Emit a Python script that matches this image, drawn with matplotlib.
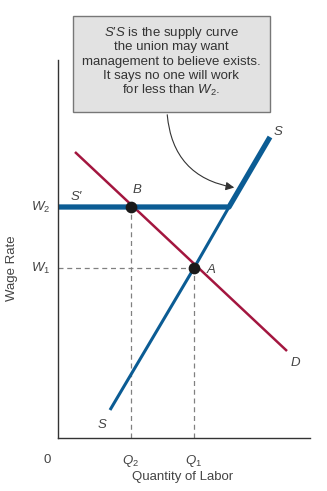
import matplotlib.pyplot as plt
from matplotlib.patches import FancyArrowPatch, Rectangle

plt.rcParams['font.family'] = ['Liberation Sans', 'DejaVu Sans']
plt.rcParams['mathtext.fontset'] = 'custom'
plt.rcParams['mathtext.it'] = 'Liberation Sans:italic'
plt.rcParams['mathtext.rm'] = 'Liberation Sans'

# chart values (axis units: quantity 0-252, wage 0-378)
w_levels = [170, 231]          # W1, W2
q_levels = [136, 73]           # Q1, Q2
demand_x = [17, 229]
demand_y = [286, 87]
supply_x = [52, 136, 171]      # bottom, A, kink
supply_y = [28, 170, 231]
supply_top = [212, 301]
note_lines = ["$S$\u2032$S$ is the supply curve", "the union may want",
              "management to believe exists.", "It says no one will work",
              "for less than $W_2$."]
blue = '#0b5c94'
red = '#a3163f'
grey = '#808080'
txt = '#444444'

fig = plt.figure(figsize=(3.27, 4.91), dpi=100)
ax = fig.add_axes([58/327, 53/491, 252/327, 378/491])
ax.set_xlim(0, 252)
ax.set_ylim(0, 378)
for s in ['top', 'right']:
    ax.spines[s].set_visible(False)
for s in ['left', 'bottom']:
    ax.spines[s].set_color('#333333')
    ax.spines[s].set_linewidth(1.0)
ax.set_xticks([])
ax.set_yticks([])

# dashed guides
ax.plot([0, q_levels[0]], [w_levels[0]] * 2, ls=(0, (4, 3)), color=grey, lw=0.9)
ax.plot([q_levels[0]] * 2, [0, w_levels[0]], ls=(0, (4, 3)), color=grey, lw=0.9)
ax.plot([q_levels[1]] * 2, [0, w_levels[1]], ls=(0, (4, 3)), color=grey, lw=0.9)

# demand
ax.plot(demand_x, demand_y, color=red, lw=1.8, solid_capstyle='butt')
# supply below the kink
ax.plot(supply_x, supply_y, color=blue, lw=2.2, solid_capstyle='butt')
# S'S: horizontal at W2 then up along S
ax.plot([0, supply_x[2], supply_top[0]], [w_levels[1], w_levels[1], supply_top[1]],
        color=blue, lw=3.8, solid_capstyle='butt')

ax.scatter([q_levels[1], q_levels[0]], [w_levels[1], w_levels[0]], s=55, color='#1a1a1a', zorder=5)

fs = 9.5
it = dict(fontsize=fs, color=txt, style='italic')
ax.text(13, 238, "S\u2032", **it)
ax.text(75, 245, 'B', **it)
ax.text(149, 165, 'A', **it)
ax.text(233, 72, 'D', **it)
ax.text(216, 303, 'S', **it)
ax.text(40, 10, 'S', **it)

# axis labels
ax.text(-8, w_levels[1], '$W_2$', fontsize=fs, ha='right', va='center', color=txt)
ax.text(-8, w_levels[0], '$W_1$', fontsize=fs, ha='right', va='center', color=txt)
ax.text(-11, -22, '0', fontsize=fs, ha='center', va='center', color=txt)
ax.text(q_levels[1], -23, '$Q_2$', fontsize=fs, ha='center', va='center', color=txt)
ax.text(q_levels[0], -23, '$Q_1$', fontsize=fs, ha='center', va='center', color=txt)
ax.text(125, -39, 'Quantity of Labor', fontsize=fs, ha='center', va='center', color=txt)
ax.text(-46, 170, 'Wage Rate', fontsize=fs, ha='center', va='center', rotation=90, color=txt)

# note box
fig.patches.append(Rectangle((73/327, 1 - 112/491), 197/327, 96/491, transform=fig.transFigure,
                             fc='#e2e2e2', ec='#777777', lw=1.0))
for i, line in enumerate(note_lines):
    fig.text(171/327, 1 - (36 + 14.4 * i)/491, line, fontsize=9.5, ha='center',
             va='baseline', color='#333333')

arrow = FancyArrowPatch((167/327, 1 - 112/491), (237/327, 1 - 188/491),
                        transform=fig.transFigure, connectionstyle='arc3,rad=0.4',
                        arrowstyle='-|>,head_length=5,head_width=2.5', color='#333333', lw=0.8)
fig.patches.append(arrow)

fig.savefig('out.png', dpi=100)
